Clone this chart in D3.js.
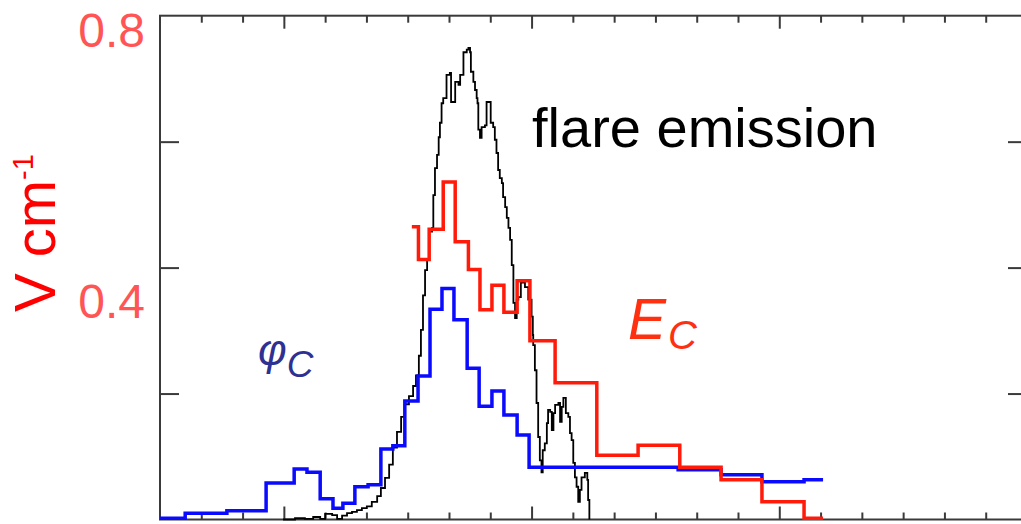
<!DOCTYPE html>
<html>
<head>
<meta charset="utf-8">
<script src="https://cdn.jsdelivr.net/npm/d3@7"></script>
<style>
  html, body { margin: 0; padding: 0; background: #fff; }
  svg { display: block; font-family: "Liberation Sans", Arial, sans-serif; }
</style>
</head>
<body>
<svg id="chart" width="1021" height="524"></svg>
<script>
// ---------- data (time in minor-tick units, field in V/cm) ----------
const phiT = [0, 0.61, 1.62, 2.57, 3.25, 3.56, 3.88, 4.19, 4.43, 4.72, 5.04, 5.35, 5.64, 5.93, 6.25, 6.54, 6.83, 7.12, 7.44, 7.73, 8.04, 8.33, 8.65, 8.94, 12.55, 13.59, 14.58, 15.60, 16.06];
const phiV = [0.002, 0.010, 0.014, 0.058, 0.080, 0.075, 0.033, 0.018, 0.026, 0.052, 0.055, 0.112, 0.117, 0.188, 0.228, 0.334, 0.367, 0.317, 0.240, 0.180, 0.204, 0.166, 0.134, 0.083, 0.079, 0.071, 0.060, 0.063, 0.063];

const ecT = [6.10, 6.26, 6.52, 6.86, 7.15, 7.47, 7.75, 8.04, 8.33, 8.65, 8.96, 9.57, 10.58, 11.58, 12.59, 13.59, 14.58, 15.60, 16.06];
const ecV = [0.465, 0.413, 0.461, 0.536, 0.441, 0.397, 0.333, 0.372, 0.329, 0.379, 0.284, 0.217, 0.102, 0.118, 0.083, 0.063, 0.028, 0.002, 0.002];

const flareT = [2.98, 3.27, 3.51, 3.71, 3.88, 4.00, 4.17, 4.29, 4.41, 4.53, 4.65, 4.77, 4.89, 5.01, 5.13, 5.26, 5.35, 5.45, 5.55, 5.64, 5.74, 5.84, 5.93, 6.03, 6.13, 6.20, 6.27, 6.32, 6.37, 6.42, 6.47, 6.52, 6.59, 6.62, 6.66, 6.71, 6.75, 6.78, 6.82, 6.86, 6.94, 7.02, 7.05, 7.10, 7.15, 7.23, 7.27, 7.35, 7.43, 7.47, 7.51, 7.53, 7.59, 7.63, 7.67, 7.69, 7.71, 7.75, 7.79, 7.87, 7.91, 7.98, 8.01, 8.07, 8.11, 8.15, 8.19, 8.23, 8.28, 8.31, 8.36, 8.40, 8.44, 8.48, 8.52, 8.56, 8.60, 8.64, 8.68, 8.74, 8.80, 8.84, 8.92, 9.00, 9.03, 9.04, 9.08, 9.12, 9.16, 9.20, 9.24, 9.27, 9.32, 9.37, 9.40, 9.45, 9.49, 9.53, 9.57, 9.65, 9.69, 9.73, 9.77, 9.81, 9.83, 9.89, 9.93, 9.97, 10.01, 10.05, 10.09, 10.13, 10.17, 10.21, 10.29, 10.35, 10.37, 10.40];
const flareV = [0.000, 0.002, 0.001, 0.004, 0.001, 0.009, 0.007, 0.001, 0.006, 0.010, 0.012, 0.015, 0.018, 0.021, 0.028, 0.037, 0.050, 0.066, 0.087, 0.114, 0.139, 0.163, 0.183, 0.196, 0.212, 0.229, 0.260, 0.301, 0.356, 0.396, 0.412, 0.457, 0.463, 0.515, 0.558, 0.579, 0.607, 0.630, 0.661, 0.669, 0.706, 0.709, 0.663, 0.663, 0.695, 0.690, 0.706, 0.742, 0.746, 0.749, 0.742, 0.711, 0.695, 0.682, 0.669, 0.661, 0.619, 0.606, 0.623, 0.626, 0.663, 0.663, 0.630, 0.623, 0.603, 0.582, 0.555, 0.542, 0.534, 0.512, 0.496, 0.479, 0.463, 0.444, 0.404, 0.344, 0.320, 0.349, 0.353, 0.376, 0.377, 0.369, 0.349, 0.322, 0.293, 0.277, 0.237, 0.185, 0.131, 0.094, 0.075, 0.110, 0.121, 0.153, 0.174, 0.171, 0.142, 0.169, 0.182, 0.185, 0.155, 0.179, 0.193, 0.193, 0.169, 0.163, 0.137, 0.126, 0.090, 0.067, 0.052, 0.028, 0.047, 0.067, 0.074, 0.063, 0.031, 0.000];

const xMinorTicks = [1, 2, 4, 5, 6, 7, 8, 10, 11, 12, 13, 14, 16, 17, 18, 19, 20];
const xMajorTicks = [3, 9, 15, 21];
const yTicks = [0.2, 0.4, 0.6];
const yLabels = ["0.4", "0.8"];

// ---------- layout ----------
const svg = d3.select("#chart");
const x = d3.scaleLinear().domain([0, 21]).range([160, 1027]);
const y = d3.scaleLinear().domain([0, 0.8]).range([519.5, 15.7]);
const axisColor = "#3a3a3a";

function styleAxis(g) {
  g.select(".domain").remove();
  g.selectAll(".tick line").attr("stroke", axisColor).attr("stroke-width", 2);
  g.selectAll(".tick text").remove();
}

// x axes (top and bottom), ticks inward
svg.append("g").attr("transform", `translate(0,${y(0)})`)
  .call(d3.axisBottom(x).tickValues(xMinorTicks).tickSize(-7).tickFormat("")).call(styleAxis);
svg.append("g").attr("transform", `translate(0,${y(0)})`)
  .call(d3.axisBottom(x).tickValues(xMajorTicks).tickSize(-13).tickFormat("")).call(styleAxis);
svg.append("g").attr("transform", `translate(0,${y(0.8)})`)
  .call(d3.axisTop(x).tickValues(xMinorTicks).tickSize(-7).tickFormat("")).call(styleAxis);
svg.append("g").attr("transform", `translate(0,${y(0.8)})`)
  .call(d3.axisTop(x).tickValues(xMajorTicks).tickSize(-13).tickFormat("")).call(styleAxis);

// y axes (left and right), ticks inward
svg.append("g").attr("transform", `translate(${x(0)},0)`)
  .call(d3.axisLeft(y).tickValues(yTicks).tickSize(-19).tickFormat("")).call(styleAxis);
svg.append("g").attr("transform", `translate(${x(21)},0)`)
  .call(d3.axisRight(y).tickValues(yTicks).tickSize(-19).tickFormat("")).call(styleAxis);

// frame
svg.append("rect")
  .attr("x", x(0)).attr("y", y(0.8))
  .attr("width", x(21) - x(0)).attr("height", y(0) - y(0.8))
  .attr("fill", "none").attr("stroke", axisColor).attr("stroke-width", 2);

// ---------- series ----------
const line = d3.line().x(d => x(d[0])).y(d => y(d[1])).curve(d3.curveStepAfter);

svg.append("path")
  .datum(flareT.map((t, i) => [t, flareV[i]]))
  .attr("d", line).attr("fill", "none").attr("stroke", "#000").attr("stroke-width", 1.8);

svg.append("path")
  .datum(phiT.map((t, i) => [t, phiV[i]]))
  .attr("d", line).attr("fill", "none").attr("stroke", "#0a0aff").attr("stroke-width", 3.5);

svg.append("path")
  .datum(ecT.map((t, i) => [t, ecV[i]]))
  .attr("d", line).attr("fill", "none").attr("stroke", "#ff1a0a").attr("stroke-width", 3.5);

// ---------- text ----------
const labelDy = { "0.8": 31, "0.4": 50 };
svg.selectAll("text.ylab").data(yLabels).enter().append("text")
  .attr("class", "ylab")
  .attr("x", 145).attr("y", d => y(+d) + labelDy[d])
  .attr("text-anchor", "end")
  .attr("font-size", 48).attr("fill", "#ff5555")
  .text(d => d);

// y title rotated
const title = svg.append("text")
  .attr("transform", "translate(55,312) rotate(-90)")
  .attr("font-size", 58).attr("fill", "#ff0000");
title.append("tspan").text("V cm");
title.append("tspan").attr("font-size", 29).attr("dy", -22).text("-1");

// annotations
svg.append("text").attr("x", 532).attr("y", 147)
  .attr("font-size", 56).attr("fill", "#000").text("flare emission");

const phi = svg.append("text").attr("x", 258).attr("y", 365)
  .attr("font-style", "italic").attr("fill", "#2e3192").attr("font-size", 44);
phi.append("tspan").text("φ");
phi.append("tspan").attr("font-size", 37).attr("dy", 12).text("C");

const ec = svg.append("text").attr("x", 628).attr("y", 339)
  .attr("font-style", "italic").attr("fill", "#ff3010").attr("font-size", 57);
ec.append("tspan").text("E");
ec.append("tspan").attr("font-size", 40).attr("dy", 10).attr("dx", 2).text("C");
</script>
</body>
</html>
